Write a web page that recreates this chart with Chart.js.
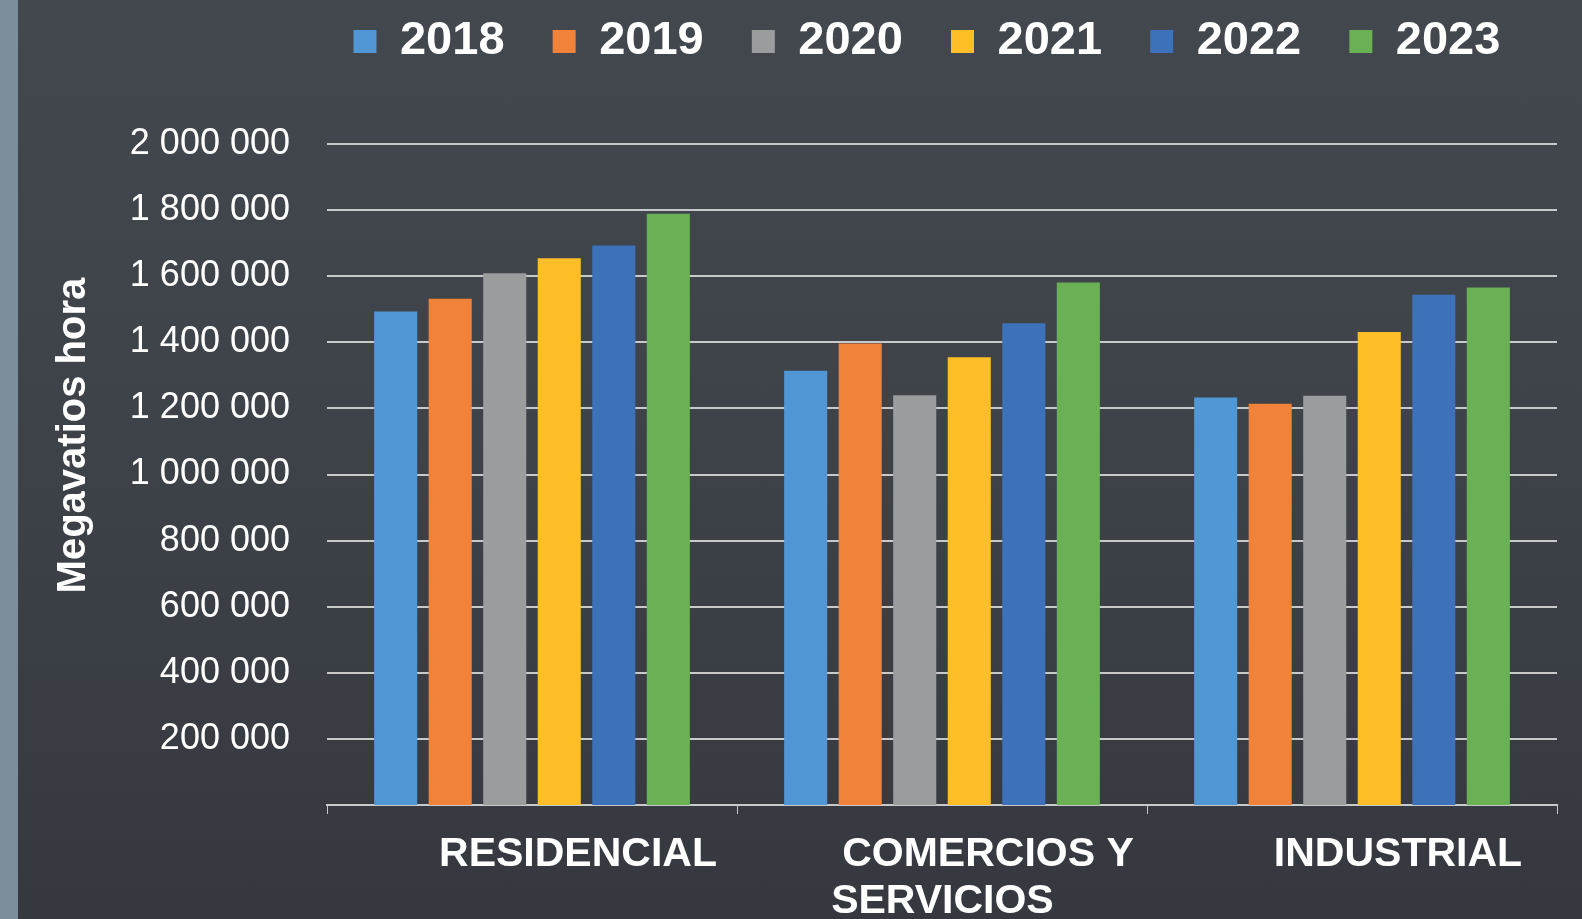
<!DOCTYPE html>
<html>
<head>
<meta charset="utf-8">
<script src="https://cdn.jsdelivr.net/npm/chart.js@4.4.1/dist/chart.umd.min.js"></script>
<style>
  html, body { margin: 0; padding: 0; }
  body {
    width: 1582px; height: 919px; overflow: hidden;
    background:
      linear-gradient(to right, #7d8e9a 0px, #7d8e9a 18px, transparent 18px),
      linear-gradient(180deg, #43484f 0%, #3e4249 45%, #35383f 100%);
  }
  canvas { display: block; }
</style>
</head>
<body>
<canvas id="c" width="1582" height="919"></canvas>
<script>
// ---- data ----
const categories = [['RESIDENCIAL'], ['COMERCIOS Y', 'SERVICIOS'], ['INDUSTRIAL']];
const seriesNames = ['2018', '2019', '2020', '2021', '2022', '2023'];
const v2018 = [1493000, 1314000, 1233000];
const v2019 = [1532000, 1396000, 1214000];
const v2020 = [1609000, 1240000, 1238000];
const v2021 = [1654000, 1355000, 1431000];
const v2022 = [1693000, 1458000, 1544000];
const v2023 = [1789000, 1581000, 1566000];
const yTickMin = 0, yTickMax = 2000000, yTickStep = 200000;
const yTitle = 'Megavatios hora';

const seriesValues = [v2018, v2019, v2020, v2021, v2022, v2023];
const colors = ['#5197d5', '#f1823a', '#9a9d9e', '#fdbe27', '#3d71b9', '#6ab155'];

const FONT = '"Liberation Sans", Arial, sans-serif';
Chart.defaults.font.family = FONT;
Chart.defaults.color = '#ffffff';

const fmt = v => String(v).replace(/\B(?=(\d{3})+(?!\d))/g, ' ');

const layoutTweaks = {
  id: 'layoutTweaks',
  beforeInit(chart) {
    const lg = chart.legend;
    const origFit = lg.fit;
    lg.fit = function () { origFit.call(this); this.height = 144; };
    const origDraw = lg.draw;
    lg.draw = function () {
      const ctx = this.ctx;
      ctx.save();
      ctx.translate(-2, -4);
      origDraw.call(this);
      ctx.restore();
    };
  }
};

new Chart(document.getElementById('c'), {
  type: 'bar',
  data: {
    labels: categories,
    datasets: seriesNames.map((name, i) => ({
      label: name,
      data: seriesValues[i],
      backgroundColor: colors[i],
      borderWidth: 0,
      categoryPercentage: 0.798,
      barPercentage: 0.79
    }))
  },
  plugins: [layoutTweaks],
  options: {
    responsive: false,
    devicePixelRatio: 1,
    animation: false,
    layout: { padding: { left: 0, right: 25, top: 0, bottom: 0 } },
    plugins: {
      tooltip: { enabled: false },
      legend: {
        position: 'top',
        fullSize: false,
        labels: {
          color: '#ffffff',
          font: { size: 47, weight: 'bold', family: FONT },
          boxWidth: 23,
          boxHeight: 23,
          padding: 22,
          generateLabels(chart) {
            const items = Chart.defaults.plugins.legend.labels.generateLabels(chart);
            items.forEach(it => { it.text = it.text + '  '; it.lineWidth = 0; });
            return items;
          }
        }
      }
    },
    scales: {
      x: {
        afterFit(scale) { scale.height = 114; },
        grid: {
          display: true,
          drawOnChartArea: false,
          drawTicks: true,
          tickLength: 9,
          color: '#c8c9cb',
          lineWidth: 1,
          offset: true
        },
        border: { display: true, color: '#c8c9cb', width: 2 },
        ticks: {
          color: '#ffffff',
          font: { size: 41, weight: 'bold', family: FONT, lineHeight: 1.13 },
          padding: 18,
          labelOffset: 46,
          maxRotation: 0,
          autoSkip: false,
          callback: function (value) {
            const lab = this.getLabelForValue(value);
            const lines = Array.isArray(lab) ? lab : [lab];
            return lines.map((l, i) => (i === 0 ? l : l + '        '));
          }
        }
      },
      y: {
        min: yTickMin,
        max: yTickMax,
        afterFit(scale) { scale.width = 327; },
        grid: { color: '#c8c9cb', lineWidth: 2, drawTicks: false },
        border: { display: false },
        ticks: {
          stepSize: yTickStep,
          color: '#ffffff',
          font: { size: 36, family: FONT },
          padding: 37,
          callback: v => (v === 0 ? null : fmt(v))
        },
        title: {
          display: true,
          text: '       ' + yTitle,
          color: '#ffffff',
          font: { size: 40, weight: 'bold', family: FONT, lineHeight: 1.2 },
          padding: { top: 50, bottom: 0 }
        }
      }
    }
  }
});
</script>
</body>
</html>
